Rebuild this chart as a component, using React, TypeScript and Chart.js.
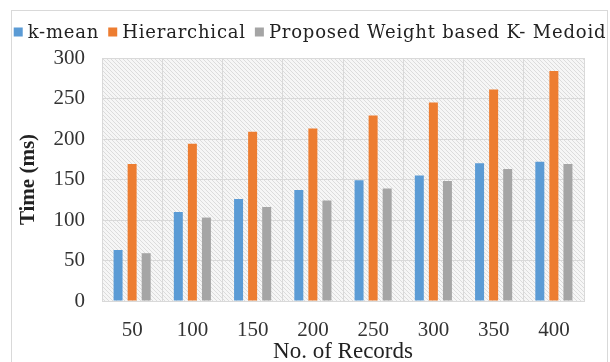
import React, { useEffect, useRef } from "react";
import { Chart, registerables } from "chart.js";

Chart.register(...registerables);

const categories = ["50", "100", "150", "200", "250", "300", "350", "400"];
const kMean = [63, 110, 126, 137, 149, 155, 170, 172];
const hierarchical = [169, 194, 209, 213, 229, 245, 261, 284];
const proposed = [59, 103, 116, 124, 139, 148, 163, 169];
const seriesNames = ["k-mean", "Hierarchical", "Proposed Weight based K- Medoid"];
const seriesColors = ["#5B9BD5", "#ED7D31", "#A5A5A5"];
const yTitle = "Time (ms)";
const xTitle = "No. of Records";

const FONT = "'Liberation Serif', 'Times New Roman', serif";
const LFONT = "18px 'DejaVu Serif', serif";

function makeHatch(ctx: CanvasRenderingContext2D) {
  const c = document.createElement("canvas");
  c.width = 4;
  c.height = 4;
  const p = c.getContext("2d")!;
  p.fillStyle = "#f6f6f6";
  p.fillRect(0, 0, 4, 4);
  p.strokeStyle = "#dcdcdc";
  p.lineWidth = 1;
  p.beginPath();
  p.moveTo(0, 0);
  p.lineTo(4, 4);
  p.moveTo(-1, 3);
  p.lineTo(1, 5);
  p.moveTo(3, -1);
  p.lineTo(5, 1);
  p.stroke();
  return ctx.createPattern(c, "repeat");
}

const hatchPlugin = {
  id: "hatchBg",
  beforeDraw(chart: any) {
    const { ctx, chartArea } = chart;
    ctx.save();
    ctx.fillStyle = makeHatch(ctx) || "#f4f4f4";
    ctx.fillRect(chartArea.left, chartArea.top, chartArea.right - chartArea.left, chartArea.bottom - chartArea.top);
    ctx.restore();
  },
};

const legendPlugin = {
  id: "customLegend",
  afterDraw(chart: any) {
    const ctx = chart.ctx as any;
    ctx.save();
    ctx.font = LFONT;
    ctx.letterSpacing = "0.8px";
    ctx.textBaseline = "middle";
    const box = 9, gapText = 5, gapItem = 9;
    const ds = chart.data.datasets;
    const widths = ds.map((d: any) => box + gapText + ctx.measureText(d.label).width);
    const total = widths.reduce((a: number, b: number) => a + b, 0) + gapItem * (ds.length - 1);
    let x = 310 - total / 2;
    const y = 32;
    ds.forEach((d: any, i: number) => {
      ctx.fillStyle = d.backgroundColor;
      ctx.fillRect(x, y - box / 2, box, box);
      ctx.fillStyle = "#222";
      ctx.fillText(d.label, x + box + gapText, y + 1);
      x += widths[i] + gapItem;
    });
    ctx.restore();
  },
};

export default function App() {
  const ref = useRef<HTMLCanvasElement | null>(null);
  useEffect(() => {
    if (!ref.current) return;
    const chart = new Chart(ref.current, {
      type: "bar",
      data: {
        labels: categories,
        datasets: [
          { label: seriesNames[0], data: kMean, backgroundColor: seriesColors[0] },
          { label: seriesNames[1], data: hierarchical, backgroundColor: seriesColors[1] },
          { label: seriesNames[2], data: proposed, backgroundColor: seriesColors[2] },
        ],
      },
      options: {
        responsive: false,
        animation: false,
        layout: { padding: { left: 16, right: 26, top: 58, bottom: 0 } },
        datasets: { bar: { categoryPercentage: 0.7, barPercentage: 0.64 } },
        plugins: {
          legend: { display: false },
          tooltip: { enabled: false },
        },
        scales: {
          x: {
            grid: { color: "#d9d9d9", offset: true, drawTicks: false },
            border: { color: "#d9d9d9" },
            ticks: { font: { family: FONT, size: 21 }, color: "#333", padding: 17 },
            title: { display: true, text: xTitle, font: { family: FONT, size: 23 }, color: "#222", padding: { top: 0, bottom: -4 } },
            afterFit: (s: any) => { s.height = 61; },
          },
          y: {
            min: 0,
            max: 300,
            ticks: { stepSize: 50, font: { family: FONT, size: 21 }, color: "#333", padding: 17 },
            grid: { color: "#d9d9d9", drawTicks: false },
            border: { color: "#d9d9d9" },
            title: { display: true, text: yTitle, font: { family: FONT, size: 21, weight: "bold" }, color: "#222", padding: 0 },
            afterFit: (s: any) => { s.width = 86; },
          },
        },
      },
      plugins: [hatchPlugin, legendPlugin],
    });
    return () => chart.destroy();
  }, []);
  return (
    <div style={{ position: "fixed", left: 0, top: 0, width: 610, height: 362, background: "#fff" }}>
      <div style={{ position: "absolute", left: 11, top: 10, width: 595, height: 360, border: "1px solid #d9d9d9" }} />
      <canvas ref={ref} width={610} height={362} style={{ position: "absolute", left: 0, top: 0 }} />
    </div>
  );
}
